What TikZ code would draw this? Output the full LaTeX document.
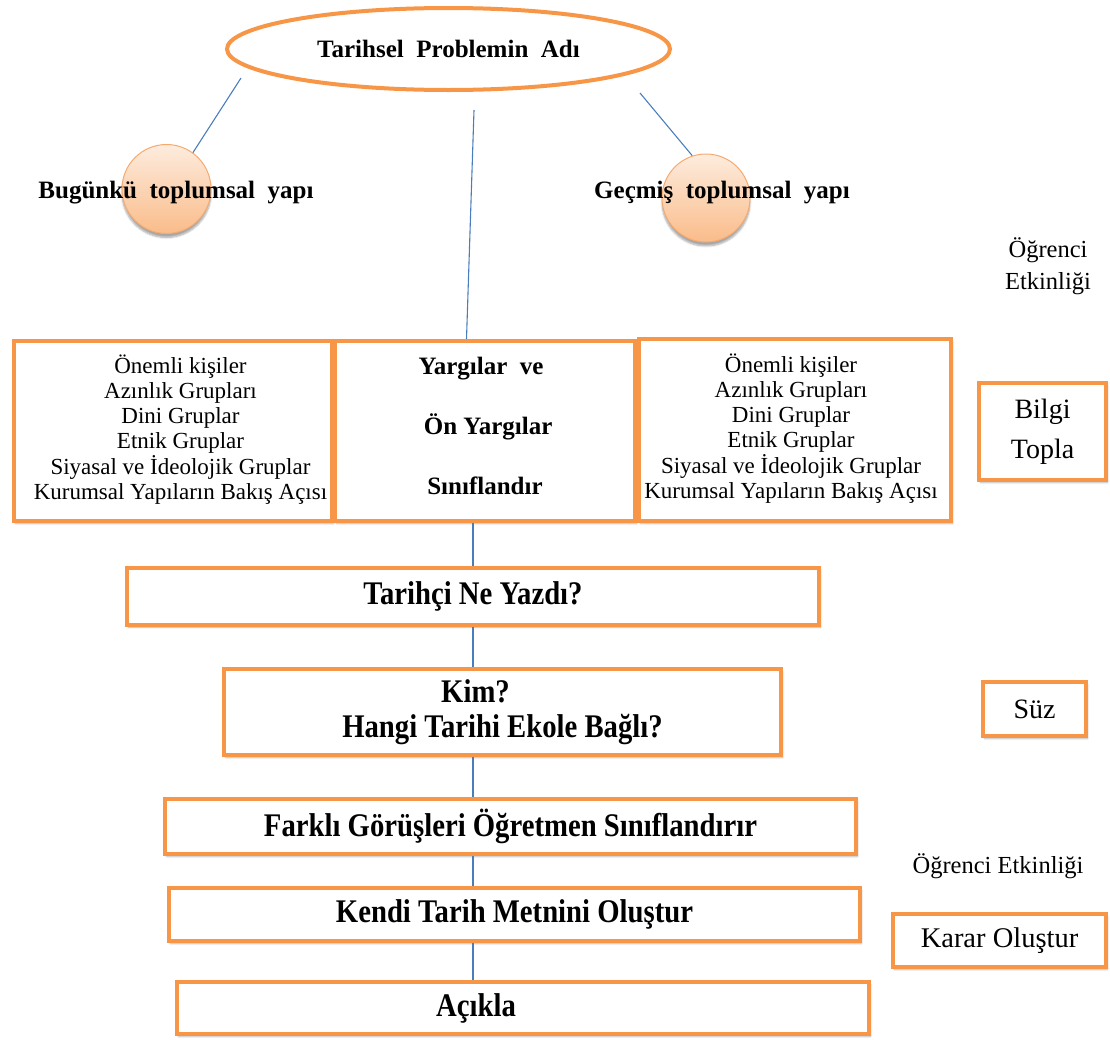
\documentclass[tikz,border=0pt]{standalone}
\usepackage{fontspec}
\setmainfont{Liberation Serif}
\newfontfamily\narrowserif{Liberation Serif}[FakeStretch=0.87]
\usetikzlibrary{shapes.geometric,shadows.blur,calc}

\definecolor{frameorange}{HTML}{F79646}
\definecolor{linkblue}{HTML}{4A7EBB}
\definecolor{bubbletop}{RGB}{253,236,222}
\definecolor{bubblebottom}{RGB}{250,188,138}
\definecolor{bubbleedge}{RGB}{247,170,110}

\tikzset{
  frame/.style={rectangle, draw=frameorange, line width=4pt, fill=white,
    inner sep=0pt, align=center,
    blur shadow={shadow xshift=1.5pt, shadow yshift=-2.5pt,
      shadow opacity=30, shadow blur steps=4}},
  link/.style={draw=linkblue, line width=1.1pt},
  bubble/.style={circle, draw=bubbleedge, line width=1pt, inner sep=0pt,
    top color=bubbletop, bottom color=bubblebottom,
    blur shadow={shadow xshift=0pt, shadow yshift=-4pt,
      shadow opacity=35, shadow blur steps=6}},
  headtext/.style={font=\bfseries\fontsize{25}{28}\selectfont},
  listtext/.style={font=\fontsize{23}{25}\selectfont},
  titletext/.style={font=\narrowserif\bfseries\fontsize{33}{35}\selectfont},
  sidetext/.style={font=\fontsize{28}{40}\selectfont},
  notetext/.style={font=\fontsize{24.5}{32}\selectfont, align=center},
}

% list of viewpoints used in both side boxes
\newcommand{\viewpointlist}{\begin{tabular}{@{}c@{}}Önemli kişiler\\Azınlık Grupları\\
  Dini Gruplar\\Etnik Gruplar\\Siyasal ve İdeolojik Gruplar\\
  Kurumsal Yapıların Bakış Açısı\end{tabular}}

\begin{document}
\begin{tikzpicture}[x=1pt, y=-1pt]
\useasboundingbox (0,0) rectangle (1110,1039);

% problem name at the top
\node[ellipse, draw=frameorange, line width=4pt, inner sep=0pt,
      minimum width=443pt, minimum height=82pt, headtext] (problem)
  at (448.5,49) {Tarihsel\ \ Problemin\ \ Adı};

% present and past society
\node[bubble, minimum size=89pt] (today) at (166.5,189) {};
\node[bubble, minimum size=88pt] (past) at (706,198) {};
\node[headtext, anchor=base] (todaytxt) at (176,198) {Bugünkü\ \ toplumsal\ \ yapı};
\node[headtext, anchor=base] (pasttxt) at (722,198) {Geçmiş\ \ toplumsal\ \ yapı};

\node[notetext] (activity1) at (1048,266) {Öğrenci\\Etkinliği};

% information gathering row
\node[frame, listtext, minimum width=318pt, minimum height=180pt] (groupsL)
  at (173,431) {\hspace*{15pt}\viewpointlist};
\node[frame, minimum width=300pt, minimum height=180pt,
      font=\bfseries\fontsize{25}{60}\selectfont] (judge)
  at (485,431) {Yargılar\ \ ve\hspace*{8pt}\\\ Ön Yargılar\\Sınıflandır\hspace*{10pt}\\[-50pt]\mbox{}};
\node[frame, listtext, minimum width=312pt, minimum height=182pt] (groupsR)
  at (795,430) {\viewpointlist\hspace*{8pt}};
\node[frame, sidetext, minimum width=127pt, minimum height=97pt] (gather)
  at (1042.5,431.5) {Bilgi\\Topla};

% main sequence
\node[frame, titletext, minimum width=692pt, minimum height=57pt] (wrote)
  at (473,596) {Tarihçi Ne Yazdı?};
\node[frame, titletext, minimum width=557pt, minimum height=86pt] (who)
  at (502.5,712) {Kim?\hspace*{54pt}\\Hangi Tarihi Ekole Bağlı?};
\node[frame, titletext, minimum width=691pt, minimum height=55pt] (views)
  at (510.5,826.5) {Farklı Görüşleri Öğretmen Sınıflandırır};
\node[frame, titletext, minimum width=691pt, minimum height=53pt] (own)
  at (514.5,914.5) {Kendi Tarih Metnini Oluştur};
\node[frame, titletext, minimum width=692pt, minimum height=52pt] (explain)
  at (523,1008) {Açıkla\hspace*{94pt}};

% side steps
\node[frame, sidetext, minimum width=103pt, minimum height=54pt] (filter)
  at (1034.5,709) {Süz};
\node[notetext] (activity2) at (998,866) {Öğrenci Etkinliği};
\node[frame, font=\fontsize{28.5}{32}\selectfont, minimum width=213pt, minimum height=53pt] (decide)
  at (999.5,940.5) {Karar Oluştur};

% connectors
\coordinate (leftfoot) at (241,78);
\coordinate (rightfoot) at (640,93);
\coordinate (midfoot) at (474,110);
\path (judge.north) ++(-18.5,0) coordinate (judgetop);

\draw[link] (leftfoot) -- (today.54);
\draw[link] (rightfoot) -- (past.108);
\draw[link] (midfoot) -- (judgetop);
\draw[link] (wrote.north) -- (wrote.north |- judge.south);
\draw[link] (wrote.south) -- (wrote.south |- who.north);
\draw[link] (who.south -| wrote.south) -- (wrote.south |- views.north);
\draw[link] (views.south -| wrote.south) -- (wrote.south |- own.north);
\draw[link] (own.south -| wrote.south) -- (wrote.south |- explain.north);
\end{tikzpicture}
\end{document}
